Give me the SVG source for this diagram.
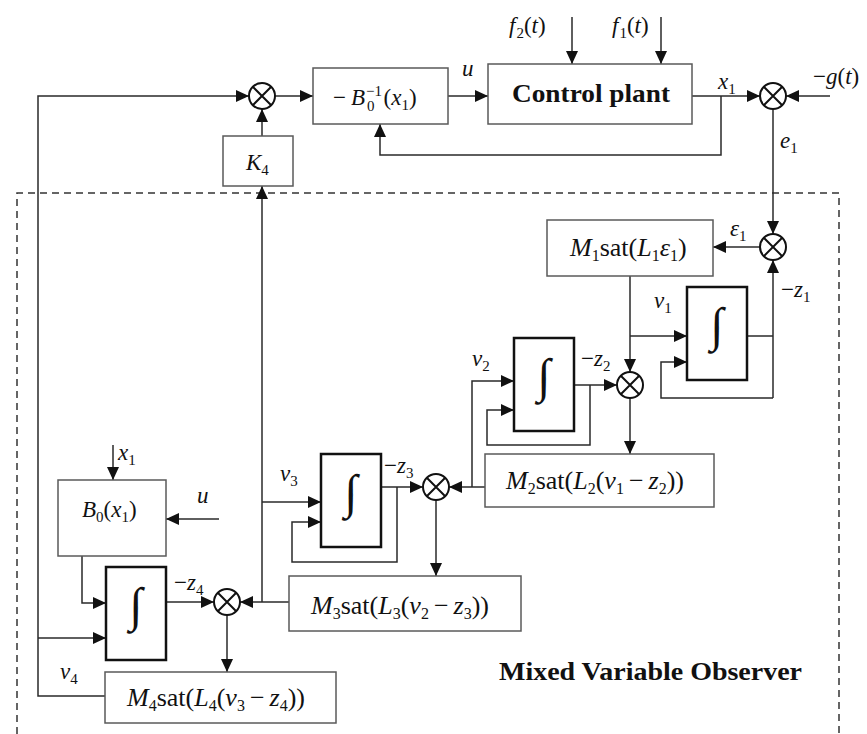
<svg xmlns="http://www.w3.org/2000/svg" xmlns:xlink="http://www.w3.org/1999/xlink" width="867" height="734" viewBox="0 0 867 734">
<style>
.ln{fill:none;stroke:#2a2a2a;stroke-width:1.5}
.ar{marker-end:url(#ah)}
.box{fill:#fff;stroke:#5a5a5a;stroke-width:1.5}
.int{fill:#fff;stroke:#111;stroke-width:2.5}
.m{font-family:"Liberation Serif",serif;font-size:23px;fill:#111}
.mb{font-size:26px}
.i{font-style:italic}
.s{font-size:15px}
.mb .s{font-size:16px}
.b{font-family:"Liberation Serif",serif;font-weight:bold;fill:#111}
.ig{font-family:"Liberation Serif",serif;font-size:48px;fill:#111;text-anchor:middle}
.dash{fill:none;stroke:#333;stroke-width:1.5;stroke-dasharray:7,5}
</style>
<defs>
<marker id="ah" markerUnits="userSpaceOnUse" markerWidth="14" markerHeight="12" refX="13" refY="6" orient="auto">
<path d="M0,0 L13,6 L0,12 z" fill="#111"/>
</marker>
<g id="sum">
<circle r="13" fill="#fff" stroke="#111" stroke-width="2"/>
<path d="M-9.2,-9.2 L9.2,9.2 M-9.2,9.2 L9.2,-9.2" stroke="#111" stroke-width="2"/>
</g>
</defs>
<rect width="867" height="734" fill="#fff"/>

<path class="dash" d="M17,734 V193 H839 V734"/>

<g id="connectors">
<path class="ln ar" d="M105,696 H38 V96 H249"/>
<path class="ln ar" d="M275,96 H313"/>
<path class="ln ar" d="M448,96 H488"/>
<path class="ln ar" d="M692,96 H760"/>
<path class="ln ar" d="M830,96 H786"/>
<path class="ln ar" d="M572,17 V64"/>
<path class="ln ar" d="M661,17 V64"/>
<path class="ln ar" d="M721,96 V155 H380 V124"/>
<path class="ln ar" d="M262,136 V109"/>
<path class="ln ar" d="M773,109 V234"/>
<path class="ln ar" d="M760,247 H713"/>
<path class="ln" d="M747,336 H773"/>
<path class="ln ar" d="M773,398 V260"/>
<path class="ln ar" d="M773,398 H661 V362 H687"/>
<path class="ln ar" d="M630,276 V372"/>
<path class="ln ar" d="M630,336 H687"/>
<path class="ln ar" d="M574,385 H617"/>
<path class="ln ar" d="M590,385 V445 H487 V410 H514"/>
<path class="ln ar" d="M472,487 V381 H514"/>
<path class="ln ar" d="M630,398 V454"/>
<path class="ln ar" d="M485,487 H449"/>
<path class="ln ar" d="M381,487 H423"/>
<path class="ln ar" d="M397,487 V562 H292 V522 H321"/>
<path class="ln ar" d="M262,502 H321"/>
<path class="ln ar" d="M436,500 V576"/>
<path class="ln ar" d="M289,602 H240"/>
<path class="ln ar" d="M262,602 V186"/>
<path class="ln ar" d="M113,445 V480"/>
<path class="ln ar" d="M219,519 H166"/>
<path class="ln ar" d="M82,556 V603 H106"/>
<path class="ln ar" d="M166,602 H214"/>
<path class="ln ar" d="M38,638 H106"/>
<path class="ln ar" d="M227,615 V672"/>
</g>

<g id="labels">
<text class="m i" x="462" y="76">u</text>
<text class="m" x="509" y="33"><tspan class="i">f</tspan><tspan class="s" dx="1" dy="5">2</tspan><tspan dy="-5">(</tspan><tspan class="i">t</tspan>)</text>
<text class="m" x="612" y="33"><tspan class="i">f</tspan><tspan class="s" dx="1" dy="5">1</tspan><tspan dy="-5">(</tspan><tspan class="i">t</tspan>)</text>
<text class="m" x="718" y="89"><tspan class="i">x</tspan><tspan class="s" dy="5">1</tspan></text>
<text class="m" x="813" y="84">−<tspan class="i">g</tspan>(<tspan class="i">t</tspan>)</text>
<text class="m" x="780" y="148"><tspan class="i">e</tspan><tspan class="s" dy="5">1</tspan></text>
<text class="m" x="730" y="236"><tspan class="i">ε</tspan><tspan class="s" dy="5">1</tspan></text>
<text class="m" x="781" y="297">−<tspan class="i">z</tspan><tspan class="s" dy="5">1</tspan></text>
<text class="m" x="654" y="308"><tspan class="i">v</tspan><tspan class="s" dy="5">1</tspan></text>
<text class="m" x="472" y="366"><tspan class="i">v</tspan><tspan class="s" dy="5">2</tspan></text>
<text class="m" x="581" y="366">−<tspan class="i">z</tspan><tspan class="s" dy="5">2</tspan></text>
<text class="m" x="280" y="481"><tspan class="i">v</tspan><tspan class="s" dy="5">3</tspan></text>
<text class="m" x="384" y="473">−<tspan class="i">z</tspan><tspan class="s" dy="5">3</tspan></text>
<text class="m" x="118" y="460"><tspan class="i">x</tspan><tspan class="s" dy="5">1</tspan></text>
<text class="m i" x="197" y="503">u</text>
<text class="m" x="174" y="590">−<tspan class="i">z</tspan><tspan class="s" dy="5">4</tspan></text>
<text class="m" x="60" y="679"><tspan class="i">v</tspan><tspan class="s" dy="5">4</tspan></text>
<text class="b" x="499" y="680" font-size="26" textLength="303" lengthAdjust="spacingAndGlyphs">Mixed Variable Observer</text>
</g>

<g id="sum1"><use xlink:href="#sum" x="262" y="96"/></g>
<g id="sum_e"><use xlink:href="#sum" x="773" y="96"/></g>
<g id="sum_eps"><use xlink:href="#sum" x="773" y="247"/></g>
<g id="sum2"><use xlink:href="#sum" x="630" y="385"/></g>
<g id="sum3"><use xlink:href="#sum" x="436" y="487"/></g>
<g id="sum4"><use xlink:href="#sum" x="227" y="602"/></g>

<g id="b0inv">
<rect class="box" x="313" y="68" width="135" height="56"/>
<text class="m" x="333" y="105">−<tspan class="i" dx="5">B</tspan><tspan class="s" dx="1" dy="-9">−1</tspan><tspan class="s" dx="-15" dy="15">0</tspan><tspan dx="9" dy="-6">(</tspan><tspan class="i">x</tspan><tspan class="s" dy="5">1</tspan><tspan dy="-5">)</tspan></text>
</g>

<g id="plant">
<rect class="box" x="488" y="64" width="204" height="60"/>
<text class="b" x="512" y="102" font-size="26" textLength="158" lengthAdjust="spacingAndGlyphs">Control plant</text>
</g>

<g id="k4">
<rect class="box" x="223" y="136" width="70" height="50"/>
<text class="m" x="246" y="170"><tspan class="i">K</tspan><tspan class="s" dy="5">4</tspan></text>
</g>

<g id="m1">
<rect class="box" x="547" y="220" width="166" height="56"/>
<text class="m mb" x="570" y="256"><tspan class="i">M</tspan><tspan class="s" dy="5">1</tspan><tspan dy="-5">sat(</tspan><tspan class="i">L</tspan><tspan class="s" dy="5">1</tspan><tspan class="i" dy="-5">ε</tspan><tspan class="s" dy="5">1</tspan><tspan dy="-5">)</tspan></text>
</g>

<g id="int1">
<rect class="int" x="687" y="287" width="60" height="93"/>
<text class="ig" x="717" y="341">∫</text>
</g>

<g id="int2">
<rect class="int" x="514" y="338" width="60" height="93"/>
<text class="ig" x="544" y="392">∫</text>
</g>

<g id="m2">
<rect class="box" x="485" y="454" width="229" height="53"/>
<text class="m mb" x="506" y="489"><tspan class="i">M</tspan><tspan class="s" dy="5">2</tspan><tspan dy="-5">sat(</tspan><tspan class="i">L</tspan><tspan class="s" dy="5">2</tspan><tspan dy="-5">(</tspan><tspan class="i">v</tspan><tspan class="s" dy="5">1</tspan><tspan dx="5" dy="-5">−</tspan><tspan class="i" dx="5">z</tspan><tspan class="s" dy="5">2</tspan><tspan dy="-5">))</tspan></text>
</g>

<g id="int3">
<rect class="int" x="321" y="454" width="60" height="93"/>
<text class="ig" x="351" y="508">∫</text>
</g>

<g id="m3">
<rect class="box" x="289" y="576" width="232" height="55"/>
<text class="m mb" x="311" y="614"><tspan class="i">M</tspan><tspan class="s" dy="5">3</tspan><tspan dy="-5">sat(</tspan><tspan class="i">L</tspan><tspan class="s" dy="5">3</tspan><tspan dy="-5">(</tspan><tspan class="i">v</tspan><tspan class="s" dy="5">2</tspan><tspan dx="5" dy="-5">−</tspan><tspan class="i" dx="5">z</tspan><tspan class="s" dy="5">3</tspan><tspan dy="-5">))</tspan></text>
</g>

<g id="b0">
<rect class="box" x="58" y="480" width="108" height="76"/>
<text class="m" x="82" y="517"><tspan class="i">B</tspan><tspan class="s" dy="5">0</tspan><tspan dy="-5">(</tspan><tspan class="i">x</tspan><tspan class="s" dy="5">1</tspan><tspan dy="-5">)</tspan></text>
</g>

<g id="int4">
<rect class="int" x="106" y="567" width="60" height="93"/>
<text class="ig" x="136" y="621">∫</text>
</g>

<g id="m4">
<rect class="box" x="105" y="672" width="231" height="51"/>
<text class="m mb" x="127" y="706"><tspan class="i">M</tspan><tspan class="s" dy="5">4</tspan><tspan dy="-5">sat(</tspan><tspan class="i">L</tspan><tspan class="s" dy="5">4</tspan><tspan dy="-5">(</tspan><tspan class="i">v</tspan><tspan class="s" dy="5">3</tspan><tspan dx="5" dy="-5">−</tspan><tspan class="i" dx="5">z</tspan><tspan class="s" dy="5">4</tspan><tspan dy="-5">))</tspan></text>
</g>
</svg>
